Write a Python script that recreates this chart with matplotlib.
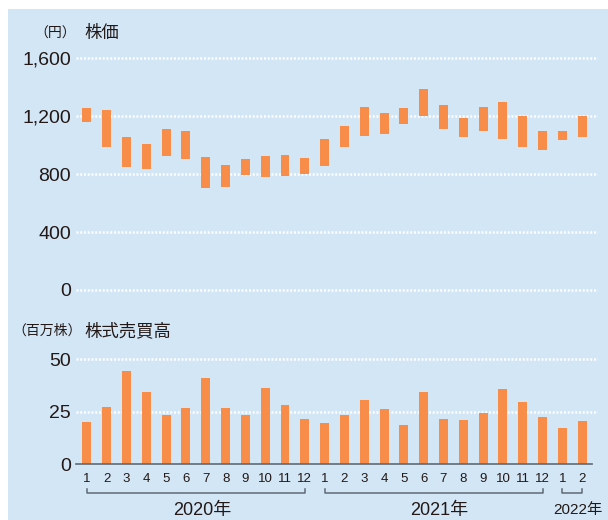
import matplotlib
matplotlib.use('Agg')
import matplotlib.pyplot as plt
import matplotlib.transforms as mtransforms
from matplotlib.patches import Rectangle

plt.rcParams['font.family'] = ['Liberation Sans', 'Noto Sans CJK JP']
plt.rcParams['lines.scale_dashes'] = False

# monthly data, Jan 2020 .. Feb 2022
month_labels = ['1', '2', '3', '4', '5', '6', '7', '8', '9', '10', '11', '12',
                '1', '2', '3', '4', '5', '6', '7', '8', '9', '10', '11', '12',
                '1', '2']
price_low = [1160, 985, 850, 835, 925, 905, 705, 710, 795, 780, 785, 800,
             855, 985, 1060, 1080, 1145, 1200, 1110, 1055, 1095, 1040, 990, 970,
             1035, 1055]
price_high = [1260, 1240, 1055, 1005, 1115, 1100, 915, 865, 905, 925, 930, 910,
              1040, 1135, 1265, 1220, 1255, 1390, 1280, 1190, 1265, 1295, 1205, 1095,
              1100, 1200]
volume = [20.1, 27.3, 44.4, 34.4, 23.5, 26.8, 41.1, 26.8, 23.5, 36.3, 28.2, 21.6,
          19.7, 23.5, 30.6, 26.3, 18.7, 34.4, 21.6, 21.1, 24.4, 35.8, 29.7, 22.5,
          17.3, 20.6]
year_labels = ['2020年', '2021年', '2022年']
year_first = [0, 12, 24]
year_last = [11, 23, 25]
price_ticks = [0, 400, 800, 1200, 1600]
price_ticklabels = ['0', '400', '800', '1,200', '1,600']
vol_ticks = [0, 25, 50]

BG = '#d3e6f6'
ORANGE = '#f78d48'
TXT = '#231815'
GRAY = '#5f6a74'

W, H = 608, 520
fig = plt.figure(figsize=(W / 100, H / 100), dpi=100)
fig.patch.set_facecolor('white')
fig.patches.append(Rectangle((8 / W, 0), 1, (H - 9) / H, transform=fig.transFigure,
                             facecolor=BG, edgecolor='none', zorder=-10))


def box(left, top, right, bottom):
    return [left / W, (H - bottom) / H, (right - left) / W, (bottom - top) / H]


x = list(range(len(month_labels)))
xlim = (-0.55, 25.8)
grid_style = dict(color='white', lw=1.8, ls=(0, (1.4, 1.3)), zorder=1)

# price axes: 0 at y=290px, 1600 at y=58.3px
ppu = (290 - 58.3) / 1600
ax1 = fig.add_axes(box(76, 58.3 - 50 * ppu, 598, 290 + 50 * ppu))
ax1.set_xlim(*xlim)
ax1.set_ylim(-50, 1650)
for v in price_ticks:
    ax1.axhline(v, **grid_style)
ax1.bar(x, [h - l for h, l in zip(price_high, price_low)], bottom=price_low,
        width=0.45, color=ORANGE, zorder=2)
ax1.set_yticks(price_ticks)
ax1.set_yticklabels(price_ticklabels)
ax1.set_xticks([])

# volume axes: 0 at y=464.3px, 50 at y=359px
vpu = (464.3 - 359) / 50
ax2 = fig.add_axes(box(76, 464.3 - 52 * vpu, 598, 464.3))
ax2.set_xlim(*xlim)
ax2.set_ylim(0, 52)
for v in vol_ticks[1:]:
    ax2.axhline(v, **grid_style)
ax2.bar(x, volume, width=0.45, color=ORANGE, zorder=2)
ax2.axhline(0, xmin=0, xmax=0.989, color=GRAY, lw=1.2, zorder=3, clip_on=False)
ax2.set_yticks(vol_ticks)
ax2.set_xticks(x)
ax2.set_xticklabels(month_labels)

for ax in (ax1, ax2):
    ax.set_facecolor('none')
    for s in ax.spines.values():
        s.set_visible(False)
    ax.tick_params(axis='y', length=0, pad=3.5, labelsize=14, labelcolor=TXT)
    ax.tick_params(axis='x', length=0, pad=6, labelsize=9.5, labelcolor=TXT)

# year brackets under the month labels
tr = mtransforms.blended_transform_factory(ax2.transData, fig.transFigure)
yb = (H - 493) / H
yt = (H - 489) / H
for lab, a, b in zip(year_labels, year_first, year_last):
    ax2.plot([a, a, b, b], [yt, yb, yb, yt], color=GRAY, lw=1.1,
             transform=tr, clip_on=False)
    fs = 13 if b - a > 2 else 11
    ax2.text((a + b) / 2 + 0.3, (H - 510) / H, lab, transform=tr,
             ha='center', va='center', fontsize=fs, color=TXT)

# titles
fig.text(76 / W, (H - 34) / H, '（円）', ha='right', va='center', fontsize=10, color=TXT)
fig.text(84 / W, (H - 33) / H, '株価', ha='left', va='center', fontsize=12.5, color=TXT)
fig.text(12 / W, (H - 331) / H, '（百万株）', ha='left', va='center', fontsize=10, color=TXT)
fig.text(84 / W, (H - 331) / H, '株式売買高', ha='left', va='center', fontsize=12.5, color=TXT)

fig.savefig('out.png', dpi=100, facecolor='white')
